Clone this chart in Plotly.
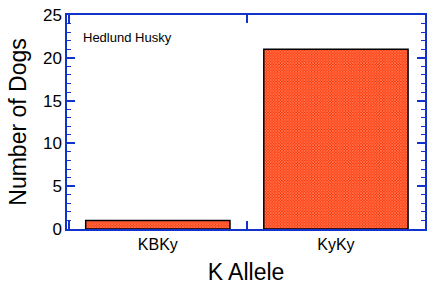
import plotly.graph_objects as go

categories = ["KBKy", "KyKy"]
counts = [1, 21]
y_ticks = [0, 5, 10, 15, 20, 25]

blue = "#1133cc"
font_family = "Liberation Sans, Arial, sans-serif"

fig = go.Figure()
fig.add_trace(go.Bar(
    x=categories, y=counts, width=0.81,
    marker=dict(
        color="#ff3300",
        line=dict(color="black", width=1.5),
        pattern=dict(shape="x", fgcolor="white", bgcolor="#ff3300", size=2, solidity=0.5, fillmode="overlay"),
    ),
))

fig.update_layout(
    width=433, height=288,
    margin=dict(l=67, r=6, t=14, b=59),
    paper_bgcolor="white", plot_bgcolor="white",
    showlegend=False,
    font=dict(family=font_family, color="black"),
    bargap=0.19,
)
fig.update_xaxes(
    type="category", range=[-0.51, 1.5],
    tickson="boundaries", ticks="inside", ticklen=8, tickcolor=blue, tickwidth=1.5,
    showline=True, linecolor=blue, linewidth=1.5, mirror="allticks",
    showgrid=False, tickfont=dict(size=16),
    title=dict(text="K Allele", font=dict(size=23), standoff=12),
)
fig.update_yaxes(
    range=[0, 25], tickvals=y_ticks, ticks="inside", ticklen=8, tickcolor=blue, tickwidth=1.5,
    minor=dict(dtick=1, ticks="inside", ticklen=4, tickcolor=blue, tickwidth=1.2, showgrid=False),
    showline=True, linecolor=blue, linewidth=1.5, mirror="allticks",
    showgrid=False, zeroline=False, tickfont=dict(size=17),
    title=dict(text="Number of Dogs", font=dict(size=23), standoff=10),
)
fig.add_annotation(
    text="Hedlund Husky", xref="paper", yref="paper", x=0.04, y=0.893,
    xanchor="left", yanchor="middle", showarrow=False, font=dict(size=13),
)
fig.write_html("out.html")
